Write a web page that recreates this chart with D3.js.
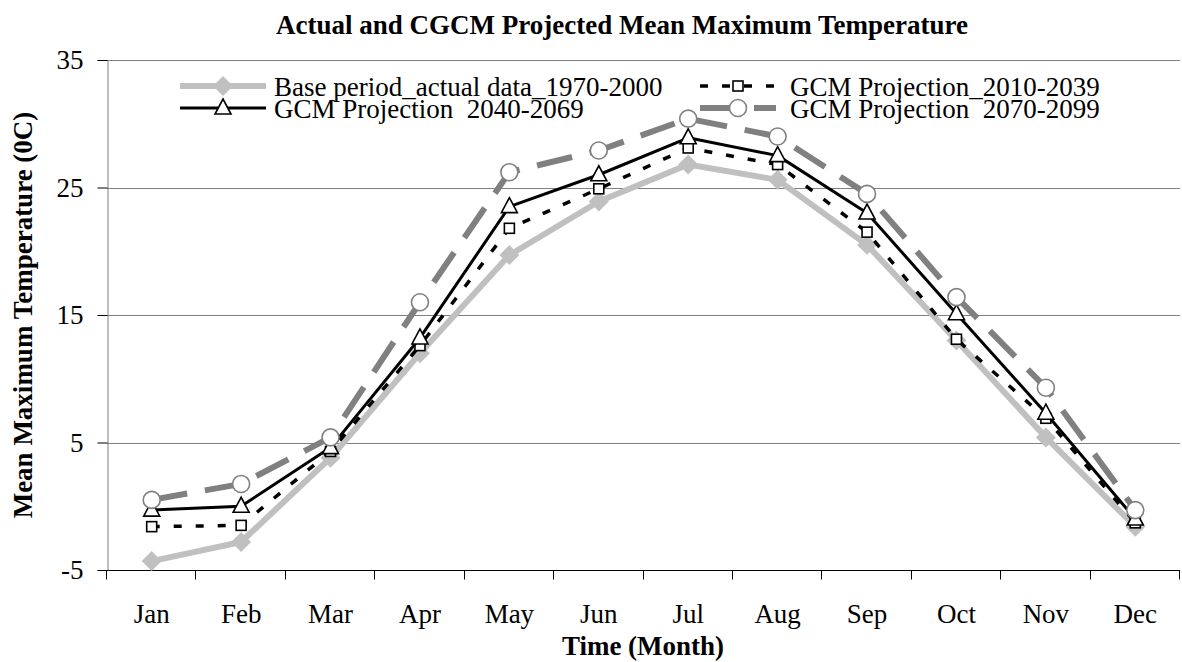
<html>
<head>
<meta charset="utf-8">
<style>
/* page and text styling */
body { margin: 0; background: #fff; }
text { font-family: "Liberation Serif", "Times New Roman", serif; fill: #000; }
.title, .axis-title { font-weight: bold; }
</style>
</head>
<body>
<script src="https://d3js.org/d3.v7.min.js"></script>
<script>
// chart values
var months = ["Jan", "Feb", "Mar", "Apr", "May", "Jun", "Jul", "Aug", "Sep", "Oct", "Nov", "Dec"];
var base19702000 = [-4.3, -2.8, 3.8, 12.0, 19.7, 23.9, 26.8, 25.6, 20.5, 13.0, 5.4, -1.6];
var gcm20102039 = [-1.6, -1.5, 4.3, 12.6, 21.8, 24.9, 28.1, 26.8, 21.5, 13.1, 6.9, -1.3];
var gcm20402069 = [-0.3, 0.0, 4.6, 13.2, 23.5, 26.0, 28.9, 27.5, 23.0, 15.1, 7.3, -1.0];
var gcm20702099 = [0.5, 1.75, 5.4, 16.0, 26.2, 27.9, 30.4, 29.0, 24.5, 16.4, 9.3, -0.3];
var yTicks = [-5, 5, 15, 25, 35];
var seriesNames = ["Base period_actual data_1970-2000", "GCM Projection_2010-2039",
                   "GCM Projection  2040-2069", "GCM Projection  2070-2099"];

var width = 1182, height = 662;
var plot = {left: 107, right: 1180, top: 60, bottom: 570};

var svg = d3.select("body").append("svg")
    .attr("width", width)
    .attr("height", height);

var x = d3.scaleBand().domain(months).range([plot.left, plot.right]).padding(0);
var y = d3.scaleLinear().domain([-5, 35]).range([plot.bottom, plot.top]);
var cx = function(m){ return x(m) + x.bandwidth() / 2; };

// horizontal grid lines
svg.append("g").selectAll("line")
    .data(yTicks.filter(function(t){ return t > -5; }))
    .enter().append("line")
    .attr("x1", plot.left).attr("x2", plot.right)
    .attr("y1", function(d){ return Math.round(y(d)) + 0.5; })
    .attr("y2", function(d){ return Math.round(y(d)) + 0.5; })
    .attr("stroke", "#808080").attr("stroke-width", 1);

// y axis (plain hyphen for negatives, like the original)
var yAxis = d3.axisLeft(y).tickValues(yTicks).tickSize(10).tickPadding(14)
    .tickFormat(function(d){ return String(d); });
var gy = svg.append("g").attr("transform", "translate(" + (plot.left + 0.5) + ",0)").call(yAxis);
gy.select(".domain").attr("stroke", "#808080");
gy.selectAll(".tick line").attr("stroke", "#000");
gy.selectAll(".tick text").attr("font-size", "27px").attr("font-family", null).attr("fill", "#000");

// x axis with ticks at category boundaries
var gx = svg.append("g").attr("transform", "translate(0," + (plot.bottom + 0.5) + ")");
gx.append("line").attr("x1", plot.left).attr("x2", plot.right).attr("stroke", "#000");
gx.selectAll(".bt").data(months.concat(["end"])).enter().append("line")
    .attr("x1", function(d, i){ return Math.round(i < 12 ? x(d) : plot.right) - 0.5; })
    .attr("x2", function(d, i){ return Math.round(i < 12 ? x(d) : plot.right) - 0.5; })
    .attr("y1", 0).attr("y2", 9).attr("stroke", "#000");
gx.selectAll(".lbl").data(months).enter().append("text")
    .attr("x", cx).attr("y", 52)
    .attr("text-anchor", "middle").attr("font-size", "27px")
    .text(function(d){ return d; });

// series styles
var series = [
  {name: seriesNames[0], values: base19702000, color: "#c0c0c0", width: 6, dash: null, marker: "diamond"},
  {name: seriesNames[1], values: gcm20102039, color: "#000", width: 3.5, dash: "8,14", marker: "square"},
  {name: seriesNames[2], values: gcm20402069, color: "#000", width: 3, dash: null, marker: "triangle"},
  {name: seriesNames[3], values: gcm20702099, color: "#808080", width: 6, dash: "36,18", marker: "circle"}
];

function drawMarker(g, s, px, py) {
  if (s.marker === "diamond") {
    g.append("path").attr("d", d3.symbol().type(d3.symbolSquare).size(200)())
      .attr("transform", "translate(" + px + "," + py + ") rotate(45)")
      .attr("fill", s.color).attr("stroke", "none");
  } else if (s.marker === "square") {
    g.append("rect").attr("x", px - 5).attr("y", py - 5).attr("width", 10).attr("height", 10)
      .attr("fill", "#fff").attr("stroke", "#000").attr("stroke-width", 1.6);
  } else if (s.marker === "triangle") {
    g.append("path").attr("d", "M" + px + "," + (py - 9) + "L" + (px + 8) + "," + (py + 6) + "L" + (px - 8) + "," + (py + 6) + "Z")
      .attr("fill", "#fff").attr("stroke", "#000").attr("stroke-width", 1.6);
  } else {
    g.append("circle").attr("cx", px).attr("cy", py).attr("r", 8.5)
      .attr("fill", "#fff").attr("stroke", "#808080").attr("stroke-width", 1.6);
  }
}

var line = d3.line()
    .x(function(d, i){ return cx(months[i]); })
    .y(function(d){ return y(d); });

series.forEach(function(s){
  var g = svg.append("g");
  g.append("path").attr("d", line(s.values))
    .attr("fill", "none").attr("stroke", s.color).attr("stroke-width", s.width)
    .attr("stroke-dasharray", s.dash).attr("stroke-linejoin", "round");
  s.values.forEach(function(v, i){ drawMarker(g, s, cx(months[i]), y(v)); });
});

// legend, two rows by two columns
var legendPos = [
  {x1: 180, x2: 266, tx: 274, y: 86},
  {x1: 700, x2: 776, tx: 790, y: 86},
  {x1: 180, x2: 266, tx: 274, y: 108},
  {x1: 700, x2: 776, tx: 790, y: 108}
];
series.forEach(function(s, i){
  var p = legendPos[i];
  var g = svg.append("g");
  g.append("line").attr("x1", p.x1).attr("x2", p.x2).attr("y1", p.y).attr("y2", p.y)
    .attr("stroke", s.color).attr("stroke-width", s.width).attr("stroke-dasharray", s.dash);
  drawMarker(g, s, (p.x1 + p.x2) / 2, p.y);
  g.append("text").attr("x", p.tx).attr("y", p.y + 10)
    .attr("font-size", "27px").style("white-space", "pre")
    .text(s.name);
});

// titles
svg.append("text").attr("class", "title")
    .attr("x", 622).attr("y", 34).attr("text-anchor", "middle").attr("font-size", "27px")
    .text("Actual and CGCM Projected Mean Maximum Temperature");
svg.append("text").attr("class", "axis-title")
    .attr("x", 643).attr("y", 655).attr("text-anchor", "middle").attr("font-size", "27px")
    .text("Time (Month)");
svg.append("text").attr("class", "axis-title")
    .attr("transform", "translate(32," + ((plot.top + plot.bottom) / 2) + ") rotate(-90)")
    .attr("text-anchor", "middle").attr("font-size", "27px")
    .text("Mean Maximum Temperature (0C)");
</script>
</body>
</html>
